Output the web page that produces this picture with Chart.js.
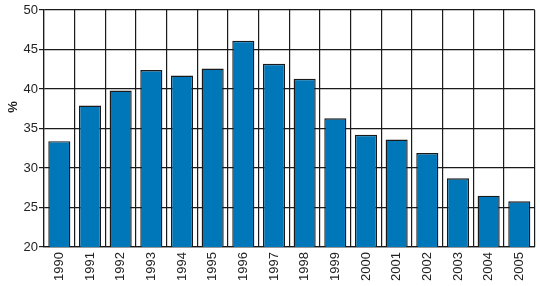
<!DOCTYPE html>
<html>
<head>
<meta charset="utf-8">
<script src="https://cdn.jsdelivr.net/npm/chart.js@4/dist/chart.umd.min.js"></script>
<style>
html,body{margin:0;padding:0;background:#fff;}
#wrap{width:540px;height:286px;position:relative;}
</style>
</head>
<body>
<div id="wrap"><canvas id="c" width="540" height="286"></canvas></div>
<script>
const years = ["1990","1991","1992","1993","1994","1995","1996","1997","1998","1999","2000","2001","2002","2003","2004","2005"];
const values = [33.4, 37.9, 39.8, 42.4, 41.7, 42.6, 46.1, 43.2, 41.3, 36.3, 34.2, 33.6, 31.9, 28.7, 26.5, 25.8];
const yTicks = [20, 25, 30, 35, 40, 45, 50];

const font = {family: "'Liberation Sans', Arial, sans-serif", size: 13};

new Chart(document.getElementById('c'), {
  type: 'bar',
  data: {
    labels: years,
    datasets: [{
      data: values,
      backgroundColor: '#0077b9',
      borderColor: '#1a1a1a',
      borderWidth: 1.4,
      borderSkipped: false,
      barPercentage: 0.72,
      categoryPercentage: 1.0
    }]
  },
  options: {
    responsive: false,
    animation: false,
    devicePixelRatio: 1,
    layout: {padding: {left: 0, right: 3, top: 10, bottom: 0}},
    plugins: {legend: {display: false}, tooltip: {enabled: false}},
    scales: {
      x: {
        offset: true,
        grid: {offset: true, color: '#1a1a1a', lineWidth: 1.2, drawTicks: false},
        border: {color: '#1a1a1a', width: 1.2},
        ticks: {color: '#222', font: font, minRotation: 90, maxRotation: 90, padding: 5, autoSkip: false}
      },
      y: {
        min: 20, max: 50,
        afterBuildTicks: (s) => { s.ticks = yTicks.map(v => ({value: v})); },
        afterFit: (s) => { s.width = 44; },
        grid: {color: '#1a1a1a', lineWidth: 1.2, tickLength: 5},
        border: {color: '#1a1a1a', width: 1.2},
        ticks: {color: '#222', font: font, padding: 1},
        title: {display: true, text: '\u00a0\u00a0\u00a0\u00a0\u00a0\u00a0\u00a0\u00a0\u00a0\u00a0\u00a0\u00a0%', color: '#222', font: {family: font.family, size: 13, weight: 'bold'}, padding: {top: 6, bottom: 0}}
      }
    }
  }
});
</script>
</body>
</html>
